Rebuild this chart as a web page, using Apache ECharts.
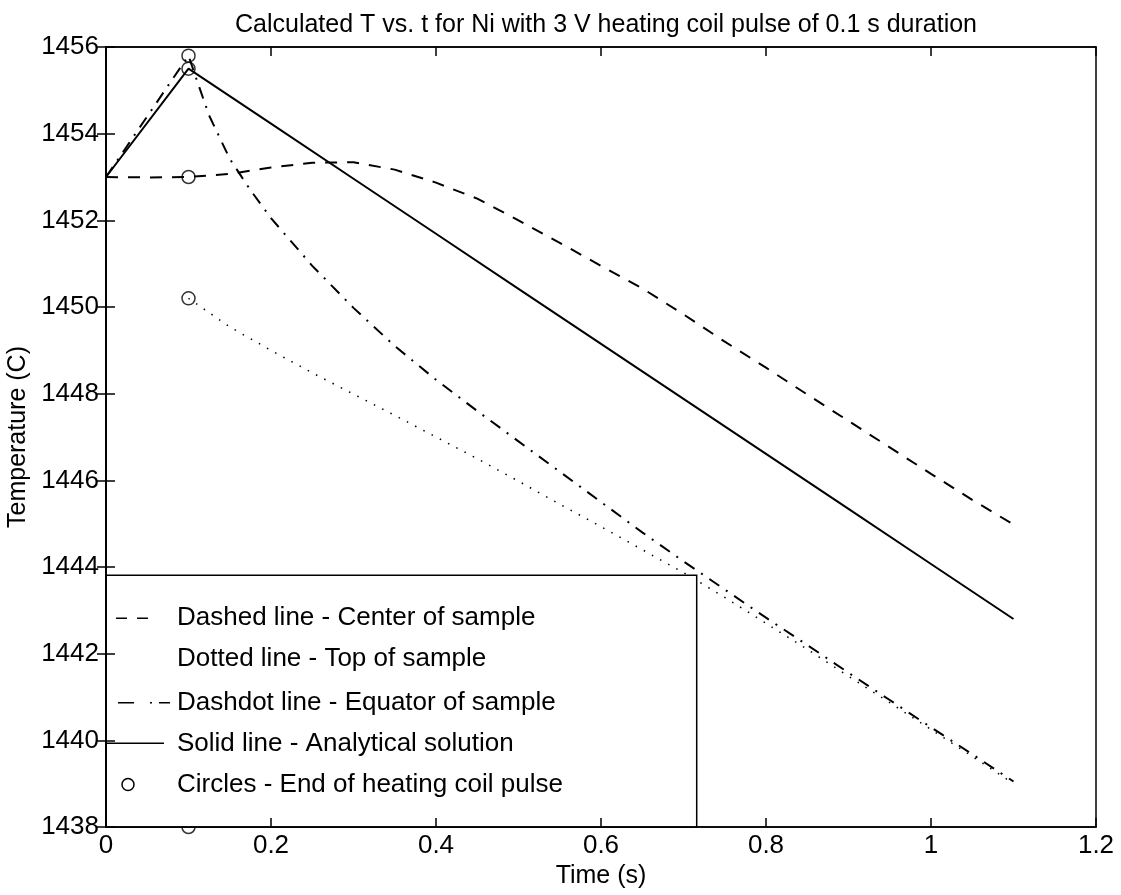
<!DOCTYPE html>
<html>
<head>
<meta charset="utf-8">
<title>Calculated T vs. t for Ni</title>
<script src="https://cdn.jsdelivr.net/npm/echarts@6/dist/echarts.min.js"></script>
<style>
  html, body { margin: 0; padding: 0; background: #fff; }
  #chart { width: 1121px; height: 895px; }
</style>
</head>
<body>
<div id="chart"></div>
<script>
// ---- data: temperature (C) vs time (s) ----
const titleText = 'Calculated T vs. t for Ni with 3 V heating coil pulse of 0.1 s duration';
const xTickLabels = ['0', '0.2', '0.4', '0.6', '0.8', '1', '1.2'];
const yTickLabels = ['1438', '1440', '1442', '1444', '1446', '1448', '1450', '1452', '1454', '1456'];

// Center of sample (dashed)
const centerTime = [0, 0.05, 0.1, 0.15, 0.2, 0.25, 0.3, 0.35, 0.4, 0.45, 0.5, 0.55, 0.6, 0.65, 0.7, 0.75, 0.8, 0.85, 0.9, 0.95, 1.0, 1.05, 1.1];
const centerTemp = [1453.0, 1452.99, 1453.0, 1453.07, 1453.22, 1453.33, 1453.34, 1453.17, 1452.87, 1452.5, 1452.0, 1451.48, 1450.95, 1450.43, 1449.83, 1449.2, 1448.6, 1447.98, 1447.37, 1446.76, 1446.15, 1445.55, 1444.98];

// Top of sample (dotted)
const topTime = [0.1, 0.15, 0.2, 0.25, 0.3, 0.35, 0.4, 0.45, 0.5, 0.55, 0.6, 0.65, 0.7, 0.75, 0.8, 0.85, 0.9, 0.95, 1.0, 1.05, 1.1];
const topTemp = [1450.2, 1449.54, 1449.0, 1448.48, 1447.99, 1447.5, 1447.0, 1446.5, 1445.98, 1445.45, 1444.93, 1444.4, 1443.87, 1443.3, 1442.7, 1442.1, 1441.48, 1440.87, 1440.25, 1439.63, 1439.0];

// Equator of sample (dashdot)
const equatorTime = [0, 0.05, 0.1, 0.11, 0.125, 0.15, 0.175, 0.2, 0.25, 0.3, 0.35, 0.4, 0.45, 0.5, 0.55, 0.6, 0.65, 0.7, 0.75, 0.8, 0.85, 0.9, 0.95, 1.0, 1.05, 1.1];
const equatorTemp = [1453.0, 1454.4, 1455.8, 1455.24, 1454.42, 1453.42, 1452.7, 1452.05, 1450.95, 1449.98, 1449.1, 1448.32, 1447.6, 1446.9, 1446.2, 1445.5, 1444.8, 1444.13, 1443.48, 1442.83, 1442.2, 1441.56, 1440.93, 1440.3, 1439.68, 1439.05];

// Analytical solution (solid)
const analyticTime = [0, 0.1, 0.2, 0.3, 0.4, 0.5, 0.6, 0.7, 0.8, 0.9, 1.0, 1.1];
const analyticTemp = [1453.0, 1455.5, 1454.23, 1452.96, 1451.69, 1450.42, 1449.15, 1447.88, 1446.61, 1445.34, 1444.07, 1442.8];

// End of heating coil pulse (circles)
const pulseEndTime = [0.1, 0.1, 0.1, 0.1, 0.1];
const pulseEndTemp = [1455.8, 1455.5, 1453.0, 1450.2, 1438.0];

const legendLabels = [
  'Dashed line - Center of sample',
  'Dotted line - Top of sample',
  'Dashdot line - Equator of sample',
  'Solid line - Analytical solution',
  'Circles - End of heating coil pulse'
];

// ---- layout / style ----
const FONT = "'Liberation Sans', Arial, Helvetica, sans-serif";
const INK = '#000';
// legend box corners and row levels, in axis units
const legendBox = { t0: 0, t1: 0.716, top: 1443.81, bottom: 1438 };
const legendRowLevels = [1442.82, 1441.87, 1440.87, 1439.93, 1438.98];

const pair = (ts, vs) => ts.map((t, i) => [t, vs[i]]);

const chart = echarts.init(document.getElementById('chart'), null, { renderer: 'canvas' });

const axisCommon = {
  type: 'value',
  z: 10,
  splitLine: { show: false },
  axisLine: { show: true, lineStyle: { color: INK, width: 1.5 } },
  axisTick: { show: true, inside: true, length: 9, lineStyle: { color: INK, width: 1.5 } }
};

chart.setOption({
  animation: false,
  backgroundColor: '#fff',
  title: {
    text: titleText,
    left: 601,
    top: 8,
    textAlign: 'center',
    textStyle: { fontFamily: FONT, fontSize: 25, fontWeight: 'normal', color: INK }
  },
  grid: {
    left: 106, right: 25, top: 47, bottom: 68,
    show: true, borderColor: INK, borderWidth: 1.5,
    containLabel: false, outerBoundsMode: 'none'
  },
  xAxis: [
    Object.assign({}, axisCommon, {
      position: 'bottom', min: 0, max: 1.2, interval: 0.2,
      name: 'Time (s)', nameLocation: 'middle', nameGap: 23,
      nameTextStyle: { fontFamily: FONT, fontSize: 25, color: INK },
      axisLabel: {
        show: true, color: INK, fontFamily: FONT, fontSize: 26, margin: 6,
        showMinLabel: true, showMaxLabel: true,
        formatter: v => xTickLabels[Math.round(v / 0.2)]
      }
    }),
    Object.assign({}, axisCommon, {
      position: 'top', min: 0, max: 1.2, interval: 0.2,
      axisLabel: { show: false }
    })
  ],
  yAxis: [
    Object.assign({}, axisCommon, {
      position: 'left', min: 1438, max: 1456, interval: 2,
      name: 'Temperature (C)', nameLocation: 'middle', nameGap: 70, nameRotate: 90,
      nameTextStyle: { fontFamily: FONT, fontSize: 25, color: INK },
      axisLabel: {
        show: true, color: INK, fontFamily: FONT, fontSize: 26, margin: 7,
        showMinLabel: true, showMaxLabel: true,
        formatter: v => yTickLabels[Math.round((v - 1438) / 2)]
      }
    }),
    Object.assign({}, axisCommon, {
      position: 'right', min: 1438, max: 1456, interval: 2,
      axisLabel: { show: false }
    })
  ],
  series: [
    {
      name: 'center', type: 'line', data: pair(centerTime, centerTemp),
      showSymbol: false, smooth: false, z: 2,
      lineStyle: { color: INK, width: 2, type: [12, 10] }
    },
    {
      name: 'top', type: 'line', data: pair(topTime, topTemp),
      showSymbol: false, z: 2,
      lineStyle: { color: INK, width: 1.5, type: [1.5, 7.8] }
    },
    {
      name: 'equator', type: 'line', data: pair(equatorTime, equatorTemp),
      showSymbol: false, z: 2,
      lineStyle: { color: INK, width: 2, type: [12, 8, 2, 8] }
    },
    {
      name: 'analytic', type: 'line', data: pair(analyticTime, analyticTemp),
      showSymbol: false, z: 2,
      lineStyle: { color: INK, width: 2, type: 'solid' }
    },
    {
      name: 'pulse end', type: 'scatter', data: pair(pulseEndTime, pulseEndTemp),
      symbol: 'circle', symbolSize: 13, clip: false, z: 3,
      itemStyle: { color: 'rgba(255,255,255,0)', borderColor: INK, borderWidth: 1.5 }
    }
  ]
});

// ---- legend box, placed in axis units ----
function buildLegend() {
  const px = (t, T) => chart.convertToPixel({ xAxisIndex: 0, yAxisIndex: 0 }, [t, T]);
  const [x0, y0] = px(legendBox.t0, legendBox.top);
  const [x1, y1] = px(legendBox.t1, legendBox.bottom);
  const els = [{
    type: 'rect', z: 5,
    shape: { x: x0, y: y0, width: x1 - x0, height: y1 - y0 },
    style: { fill: '#fff', stroke: INK, lineWidth: 1.5 }
  }];
  const rowY = legendRowLevels.map(T => px(0, T)[1]);
  const textX = x0 + 71;
  // dashed sample
  els.push({ type: 'line', z: 6, shape: { x1: x0 + 10, y1: rowY[0], x2: x0 + 42, y2: rowY[0] },
    style: { stroke: INK, lineWidth: 1.5, lineDash: [11, 10] } });
  // dashdot sample
  els.push({ type: 'line', z: 6, shape: { x1: x0 + 12, y1: rowY[2], x2: x0 + 64, y2: rowY[2] },
    style: { stroke: INK, lineWidth: 1.5, lineDash: [16, 16, 2, 7] } });
  // solid sample
  els.push({ type: 'line', z: 6, shape: { x1: x0, y1: rowY[3], x2: x0 + 58, y2: rowY[3] },
    style: { stroke: INK, lineWidth: 1.5 } });
  // circle sample
  els.push({ type: 'circle', z: 6, shape: { cx: x0 + 22, cy: rowY[4], r: 6 },
    style: { fill: 'none', stroke: INK, lineWidth: 1.5 } });
  legendLabels.forEach((label, i) => {
    els.push({
      type: 'text', z: 6,
      style: {
        text: label, x: textX, y: rowY[i],
        fontFamily: FONT, fontSize: 26, fill: INK,
        textAlign: 'left', textVerticalAlign: 'middle', verticalAlign: 'middle'
      }
    });
  });
  chart.setOption({ graphic: els });
}
buildLegend();
</script>
</body>
</html>
